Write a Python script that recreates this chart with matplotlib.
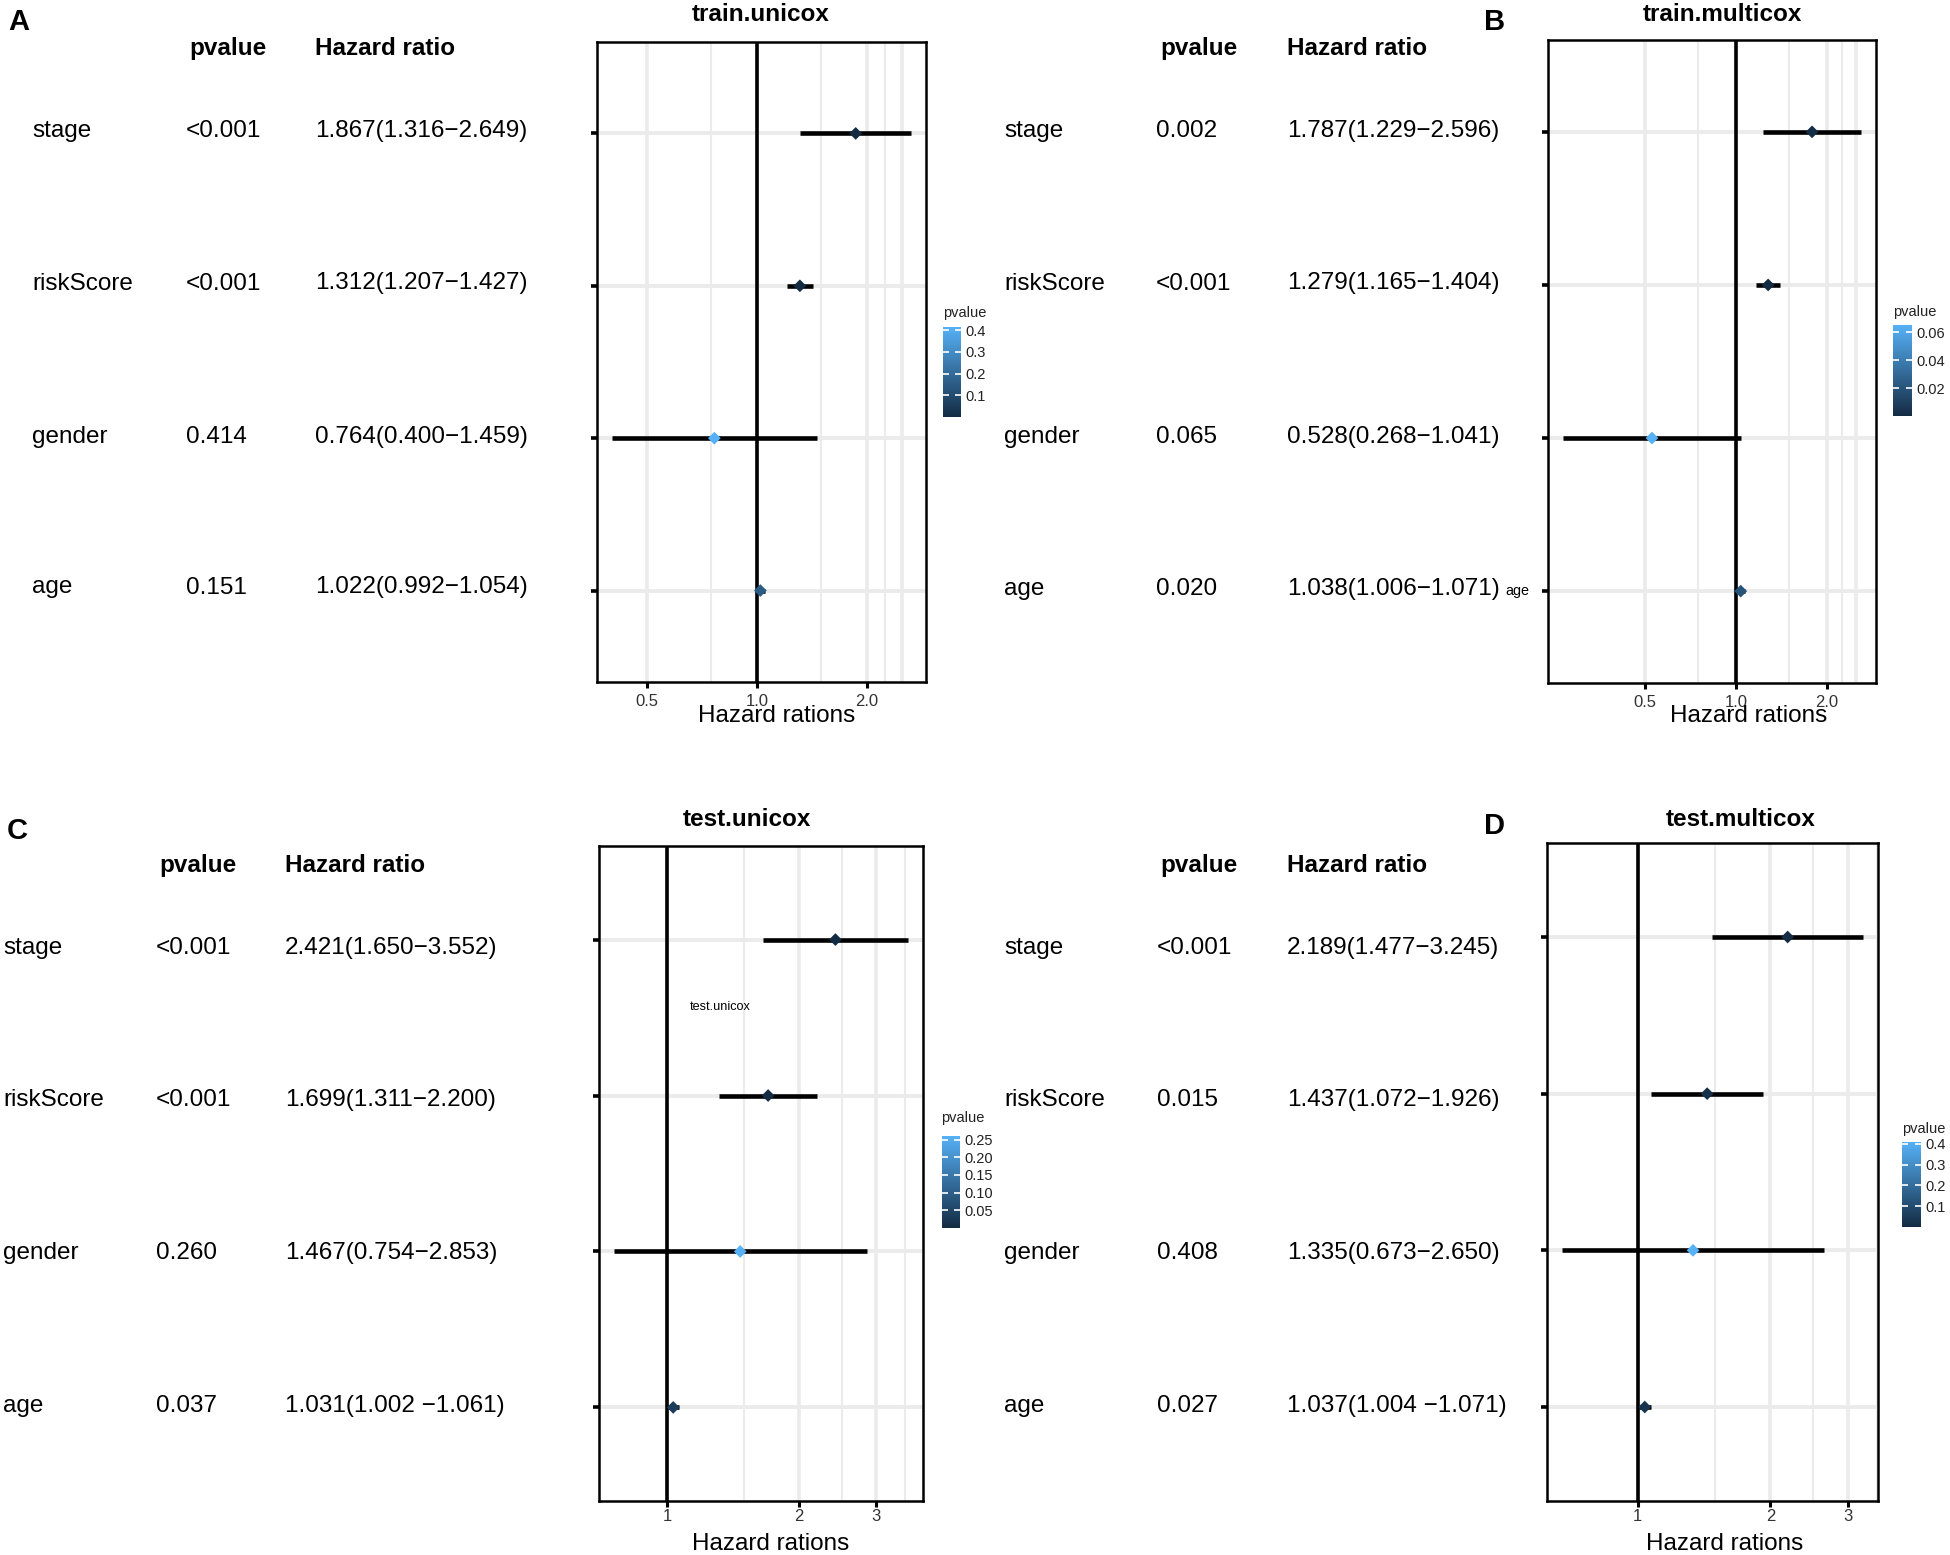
import numpy as np
import matplotlib
matplotlib.use('Agg')
import matplotlib.pyplot as plt
from matplotlib.colors import LinearSegmentedColormap, Normalize
from matplotlib.ticker import NullLocator

plt.rcParams['font.family'] = ['Liberation Sans', 'DejaVu Sans']

# ---------------- data ----------------
variables = ['stage', 'riskScore', 'gender', 'age']

A_title = 'train.unicox'
A_hr = [1.867, 1.312, 0.764, 1.022]
A_low = [1.316, 1.207, 0.400, 0.992]
A_high = [2.649, 1.427, 1.459, 1.054]
A_ptext = ['<0.001', '<0.001', '0.414', '0.151']
A_pnum = [0.0005, 0.0005, 0.414, 0.151]
A_hrtext = ['1.867(1.316\u22122.649)', '1.312(1.207\u22121.427)',
            '0.764(0.400\u22121.459)', '1.022(0.992\u22121.054)']
A_xticks = [0.5, 1.0, 2.0]
A_xticklabels = ['0.5', '1.0', '2.0']
A_cbticks = [0.1, 0.2, 0.3, 0.4]
A_cblabels = ['0.1', '0.2', '0.3', '0.4']

B_title = 'train.multicox'
B_hr = [1.787, 1.279, 0.528, 1.038]
B_low = [1.229, 1.165, 0.268, 1.006]
B_high = [2.596, 1.404, 1.041, 1.071]
B_ptext = ['0.002', '<0.001', '0.065', '0.020']
B_pnum = [0.002, 0.0005, 0.065, 0.020]
B_hrtext = ['1.787(1.229\u22122.596)', '1.279(1.165\u22121.404)',
            '0.528(0.268\u22121.041)', '1.038(1.006\u22121.071)']
B_xticks = [0.5, 1.0, 2.0]
B_xticklabels = ['0.5', '1.0', '2.0']
B_cbticks = [0.02, 0.04, 0.06]
B_cblabels = ['0.02', '0.04', '0.06']

C_title = 'test.unicox'
C_hr = [2.421, 1.699, 1.467, 1.031]
C_low = [1.650, 1.311, 0.754, 1.002]
C_high = [3.552, 2.200, 2.853, 1.061]
C_ptext = ['<0.001', '<0.001', '0.260', '0.037']
C_pnum = [0.0005, 0.0005, 0.260, 0.037]
C_hrtext = ['2.421(1.650\u22123.552)', '1.699(1.311\u22122.200)',
            '1.467(0.754\u22122.853)', '1.031(1.002 \u22121.061)']
C_xticks = [1, 2, 3]
C_xticklabels = ['1', '2', '3']
C_cbticks = [0.05, 0.10, 0.15, 0.20, 0.25]
C_cblabels = ['0.05', '0.10', '0.15', '0.20', '0.25']

D_title = 'test.multicox'
D_hr = [2.189, 1.437, 1.335, 1.037]
D_low = [1.477, 1.072, 0.673, 1.004]
D_high = [3.245, 1.926, 2.650, 1.071]
D_ptext = ['<0.001', '0.015', '0.408', '0.027']
D_pnum = [0.0005, 0.015, 0.408, 0.027]
D_hrtext = ['2.189(1.477\u22123.245)', '1.437(1.072\u22121.926)',
            '1.335(0.673\u22122.650)', '1.037(1.004 \u22121.071)']
D_xticks = [1, 2, 3]
D_xticklabels = ['1', '2', '3']
D_cbticks = [0.1, 0.2, 0.3, 0.4]
D_cblabels = ['0.1', '0.2', '0.3', '0.4']

# gridline positions (x, hazard ratio scale)
AB_grid_major = [0.5, 1.0, 2.0, 2.5]
AB_grid_minor = [0.75, 1.5, 2.25]
CD_grid_major = [1, 2, 3]
CD_grid_minor = [1.5, 2.5, 3.5]

# ---------------- layout (pixels) ----------------
W, H = 1950, 1555
fig = plt.figure(figsize=(W / 100, H / 100), dpi=100)


def fx(x):
    return x / W


def fy(y):
    return 1 - y / H


def rect(x0, y0, x1, y1):
    return [x0 / W, 1 - y1 / H, (x1 - x0) / W, (y1 - y0) / H]


cmap = LinearSegmentedColormap.from_list('gg', ['#132B43', '#56B1F7'])
GRID = '#EBEBEB'
FS = 17.5

layouts = {
    'A': dict(ax=(597, 42, 926, 682), cb=(943, 327, 961, 417), cbt=(943, 317),
              letter=(8, 30), title=(761, 21), xlab=(777, 722), tickpad=5.0,
              cols=(32, 186, 315), hdr=(189, 315, 55),
              rows=(137, 289.5, 443, 593.5)),
    'B': dict(ax=(1548, 40, 1876, 683), cb=(1893, 325, 1912, 416), cbt=(1893, 316),
              letter=(1484, 30), title=(1722, 21), xlab=(1749, 722), tickpad=4.5,
              cols=(1004, 1156, 1287), hdr=(1160, 1287, 55),
              rows=(137, 289.5, 443, 595)),
    'C': dict(ax=(599, 846, 923, 1501), cb=(942, 1136, 960, 1228), cbt=(941, 1122),
              letter=(7, 839), title=(747, 826), xlab=(771, 1550), tickpad=2.0,
              cols=(3, 156, 285), hdr=(159, 285, 872),
              rows=(954, 1106, 1259, 1412)),
    'D': dict(ax=(1547, 843, 1878, 1501), cb=(1902, 1142, 1921, 1227), cbt=(1902, 1133),
              letter=(1484, 834), title=(1741, 826), xlab=(1725, 1550), tickpad=2.0,
              cols=(1004, 1157, 1287), hdr=(1160, 1287, 872),
              rows=(954, 1106, 1259, 1412)),
}


def draw_panel(key, title, hr, lo, hi, pnum, ptext, hrtext,
               xticks, xticklabels, cbticks, cblabels, gmaj, gmin):
    lay = layouts[key]
    ax = fig.add_axes(rect(*lay['ax']))
    n = len(variables)
    ypos = np.arange(n, 0, -1)
    ax.set_xscale('log')
    lmin, lmax = np.log(min(lo)), np.log(max(hi))
    pad = 0.05 * (lmax - lmin)
    xmin, xmax = np.exp(lmin - pad), np.exp(lmax + pad)
    ax.set_xlim(xmin, xmax)
    ax.set_ylim(0.4, n + 0.6)

    for g in gmin:
        if xmin < g < xmax:
            ax.axvline(g, color=GRID, lw=1.5, zorder=0)
    for g in gmaj:
        if xmin < g < xmax:
            ax.axvline(g, color=GRID, lw=2.6, zorder=0)
    for y in ypos:
        ax.axhline(y, color=GRID, lw=2.8, zorder=0)

    ax.axvline(1, color='black', lw=2.6, zorder=1)
    ax.hlines(ypos, lo, hi, color='black', lw=3.3, zorder=2)
    norm = Normalize(min(pnum), max(pnum))
    sc = ax.scatter(hr, ypos, c=pnum, cmap=cmap, norm=norm, marker='D',
                    s=42, zorder=3, edgecolors='none')

    ax.set_xticks(xticks)
    ax.set_xticklabels(xticklabels)
    ax.xaxis.set_minor_locator(NullLocator())
    ax.set_yticks(ypos)
    ax.set_yticklabels([])
    ax.yaxis.set_minor_locator(NullLocator())
    ax.tick_params(axis='x', length=4, width=2.2, color='black', labelsize=12,
                   labelcolor='#333333', pad=lay['tickpad'])
    ax.tick_params(axis='y', length=4, width=2.6, color='black')
    for sp in ax.spines.values():
        sp.set_linewidth(1.8)
        sp.set_color('black')

    # colorbar
    cax = fig.add_axes(rect(*lay['cb']))
    cb = fig.colorbar(sc, cax=cax)
    cb.outline.set_visible(False)
    cb.set_ticks(cbticks)
    cb.set_ticklabels(cblabels)
    cax.yaxis.set_minor_locator(NullLocator())
    cax.tick_params(direction='in', color='white', length=4, width=1.2,
                    left=True, right=True, labelleft=False, labelright=True,
                    labelsize=10.5, labelcolor='#222222', pad=3)
    fig.text(fx(lay['cbt'][0]), fy(lay['cbt'][1]), 'pvalue', fontsize=10.5,
             color='#222222', ha='left', va='baseline')

    # titles / labels
    fig.text(fx(lay['title'][0]), fy(lay['title'][1]), title, fontsize=FS,
             fontweight='bold', ha='center', va='baseline')
    fig.text(fx(lay['xlab'][0]), fy(lay['xlab'][1]), 'Hazard rations',
             fontsize=FS, ha='center', va='baseline')
    fig.text(fx(lay['letter'][0]), fy(lay['letter'][1]), key, fontsize=21,
             fontweight='bold', ha='left', va='baseline')

    # table
    cx_lab, cx_p, cx_hr = lay['cols']
    hx_p, hx_hr, hy = lay['hdr']
    fig.text(fx(hx_p), fy(hy), 'pvalue', fontsize=FS, fontweight='bold',
             ha='left', va='baseline')
    fig.text(fx(hx_hr), fy(hy), 'Hazard ratio', fontsize=FS, fontweight='bold',
             ha='left', va='baseline')
    for i, v in enumerate(variables):
        yb = lay['rows'][i]
        fig.text(fx(cx_lab), fy(yb), v, fontsize=FS, ha='left', va='baseline')
        fig.text(fx(cx_p), fy(yb), ptext[i], fontsize=FS, ha='left', va='baseline')
        fig.text(fx(cx_hr), fy(yb), hrtext[i], fontsize=FS, ha='left', va='baseline')
    return ax


axA = draw_panel('A', A_title, A_hr, A_low, A_high, A_pnum, A_ptext, A_hrtext,
                 A_xticks, A_xticklabels, A_cbticks, A_cblabels,
                 AB_grid_major, AB_grid_minor)
axB = draw_panel('B', B_title, B_hr, B_low, B_high, B_pnum, B_ptext, B_hrtext,
                 B_xticks, B_xticklabels, B_cbticks, B_cblabels,
                 AB_grid_major, AB_grid_minor)
axC = draw_panel('C', C_title, C_hr, C_low, C_high, C_pnum, C_ptext, C_hrtext,
                 C_xticks, C_xticklabels, C_cbticks, C_cblabels,
                 CD_grid_major, CD_grid_minor)
axD = draw_panel('D', D_title, D_hr, D_low, D_high, D_pnum, D_ptext, D_hrtext,
                 D_xticks, D_xticklabels, D_cbticks, D_cblabels,
                 CD_grid_major, CD_grid_minor)

# stray labels present in the original figure
fig.text(fx(1505), fy(595), 'age', fontsize=10.4, ha='left', va='baseline')
fig.text(fx(690), fy(1010.5), 'test.unicox', fontsize=9.1, ha='left', va='baseline')

fig.savefig('out.png', dpi=100)
